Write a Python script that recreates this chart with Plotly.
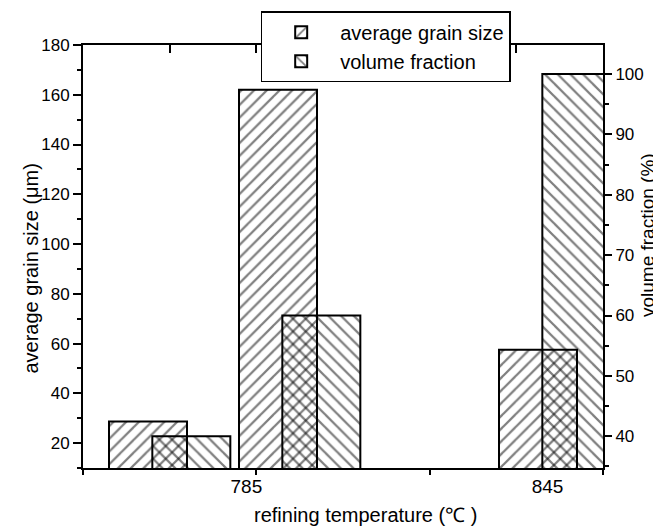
import plotly.graph_objects as go

# ---- data ----
temp_labels = ["785", "845"]
temp_label_pos = [1.885, 5.36]
grain_x = [0.75, 2.25, 5.25]
grain_size = [28.7, 162, 57.5]          # average grain size (um)
vol_x = [1.25, 2.75, 5.75]
vol_fraction = [40, 60, 100]            # volume fraction (%)

bottom_ticks = [0, 2, 4, 6]
top_ticks = [1, 2, 3, 4, 5]

FONT = "Liberation Sans, Arial, sans-serif"
bar_w = 0.9

fig = go.Figure()
fig.add_trace(go.Bar(
    x=grain_x, y=grain_size, width=bar_w, name="average grain size",
    marker=dict(color="rgba(0,0,0,0)",
                line=dict(color="black", width=2),
                pattern=dict(shape="/", fgcolor="black", bgcolor="rgba(0,0,0,0)",
                             size=9, solidity=0.25)),
    yaxis="y", xaxis="x"))
fig.add_trace(go.Bar(
    x=vol_x, y=vol_fraction, width=bar_w, name="volume fraction",
    marker=dict(color="rgba(0,0,0,0)",
                line=dict(color="black", width=2),
                pattern=dict(shape="\\", fgcolor="black", bgcolor="rgba(0,0,0,0)",
                             size=9, solidity=0.25)),
    yaxis="y2", xaxis="x"))
# helper traces so the tick-only axes are rendered
fig.add_trace(go.Scatter(x=[None], y=[None], xaxis="x2", yaxis="y", showlegend=False, hoverinfo="skip"))
fig.add_trace(go.Scatter(x=[None], y=[None], xaxis="x3", yaxis="y", showlegend=False, hoverinfo="skip"))

axis_common = dict(showgrid=False, zeroline=False, linecolor="black", tickcolor="black", automargin=False)

# page body has an 8px margin, so the figure is offset by 8px
fig.update_layout(
    width=653, height=519,
    margin=dict(l=75, r=58, t=37, b=59, autoexpand=False),
    paper_bgcolor="white", plot_bgcolor="white",
    barmode="overlay",
    font=dict(family=FONT, color="black", size=17),
    xaxis=dict(range=[0, 6], tickmode="array", tickvals=temp_label_pos, ticktext=temp_labels,
               ticks="", showline=True, linewidth=2, tickfont=dict(size=19), **axis_common),
    xaxis2=dict(range=[0, 6], overlaying="x", side="bottom", tickmode="array", tickvals=bottom_ticks,
                ticks="outside", ticklen=6, tickwidth=2, showticklabels=False, showline=False,
                **axis_common),
    xaxis3=dict(range=[0, 6], overlaying="x", side="top", tickmode="array", tickvals=top_ticks,
                ticks="inside", ticklen=8, tickwidth=2, showticklabels=False, showline=True,
                linewidth=2, **axis_common),
    yaxis=dict(range=[10, 180], tickmode="linear", tick0=20, dtick=20,
               ticks="outside", ticklen=8, tickwidth=2, showline=True, linewidth=2,
               minor=dict(ticks="outside", ticklen=4, tickwidth=2, dtick=10, tick0=10, tickcolor="black"),
               tickfont=dict(size=17), **axis_common),
    yaxis2=dict(range=[34.75, 104.8], overlaying="y", side="right", tickmode="linear", tick0=40, dtick=10,
                ticks="outside", ticklen=7, tickwidth=2, showline=True, linewidth=2,
                minor=dict(ticks="outside", ticklen=4, tickwidth=2, dtick=5, tick0=35, tickcolor="black"),
                tickfont=dict(size=17), **axis_common),
    legend=dict(x=0.3417, y=1.0795, xanchor="left", yanchor="top",
                bgcolor="white", bordercolor="black", borderwidth=1.5,
                font=dict(size=20, family=FONT), itemwidth=68, tracegroupgap=0),
    showlegend=True,
    annotations=[
        dict(text="average grain size (μm)", xref="paper", yref="paper",
             x=-0.1006, y=(468 - 268) / 422.7, xanchor="center", yanchor="middle",
             textangle=-90, showarrow=False, font=dict(size=20, family=FONT)),
        dict(text="volume fraction (%)", xref="paper", yref="paper",
             x=(648.5 - 83.3) / 520, y=(468 - 235) / 422.7, xanchor="center", yanchor="middle",
             textangle=-90, showarrow=False, font=dict(size=19, family=FONT)),
        dict(text="refining temperature (℃ )", xref="paper", yref="paper",
             x=(365.5 - 83.3) / 520, y=(468 - 515) / 422.7, xanchor="center", yanchor="middle",
             showarrow=False, font=dict(size=20, family=FONT)),
    ],
)

fig.write_html("out.html")
